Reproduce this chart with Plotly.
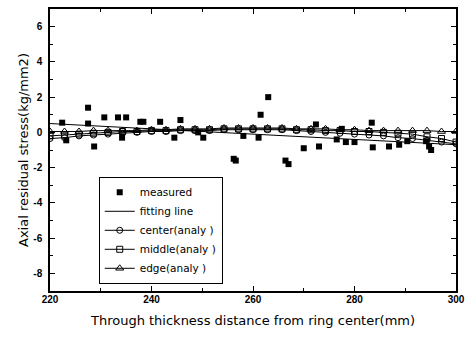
import plotly.graph_objects as go

# measured points
meas_x = [222.4, 223.2, 227.5, 227.5, 228.7, 230.7, 233.4, 235.0, 234.2, 237.8, 238.4,
          241.7, 244.5, 245.7, 249.2, 250.2, 256.2, 256.6, 258.1, 261.1, 261.5, 263.0,
          266.4, 267.0, 270.0, 272.4, 273.0, 276.5, 277.5, 278.3, 280.0, 283.4, 283.6,
          286.8, 288.8, 290.4, 294.1, 294.7, 295.1]
meas_y = [0.55, -0.45, 1.4, 0.5, -0.8, 0.85, 0.85, 0.85, -0.3, 0.6, 0.6,
          0.6, -0.3, 0.7, 0.0, -0.3, -1.5, -1.6, -0.2, -0.3, 1.0, 2.0,
          -1.6, -1.8, -0.9, 0.45, -0.8, -0.4, 0.2, -0.55, -0.55, 0.55, -0.85,
          -0.8, -0.7, -0.5, -0.5, -0.8, -1.0]

# fitting line
fit_x = [220, 300]
fit_y = [0.5, -0.7]

# analysis results
ana_x = [220 + i * 80 / 28 for i in range(29)]
center_y = [-0.35, -0.3, -0.2, -0.15, -0.1, -0.05, 0, 0.05, 0.05, 0.1, 0.1, 0.1, 0.15, 0.15,
            0.15, 0.15, 0.15, 0.1, 0.05, 0, -0.05, -0.1, -0.15, -0.2, -0.3, -0.35, -0.45,
            -0.55, -0.65]
middle_y = [-0.2, -0.15, -0.1, -0.05, 0, 0.05, 0.05, 0.1, 0.1, 0.15, 0.15, 0.15, 0.2, 0.2,
            0.2, 0.2, 0.2, 0.15, 0.15, 0.1, 0.1, 0.05, 0.05, 0, -0.05, -0.1, -0.25, -0.35,
            -0.55]
edge_y = [0.05, 0.05, 0.05, 0.1, 0.1, 0.1, 0.1, 0.15, 0.15, 0.2, 0.2, 0.2, 0.25, 0.25,
          0.25, 0.25, 0.25, 0.2, 0.2, 0.2, 0.15, 0.15, 0.1, 0.1, 0.1, 0.1, 0.1, 0.05, 0.05]

y_ticks = [6, 4, 2, 0, -2, -4, -6, -8]
x_ticks = [220, 240, 260, 280, 300]

fig = go.Figure()
fig.add_trace(go.Scatter(x=fit_x, y=fit_y, mode="lines", name="fitting line",
                         line=dict(color="black", width=1), legendrank=2))
fig.add_trace(go.Scatter(x=ana_x, y=center_y, mode="lines+markers", name="center(analy )",
                         line=dict(color="black", width=1),
                         marker=dict(symbol="circle-open", size=6, color="black",
                                     line=dict(width=1)), legendrank=3))
fig.add_trace(go.Scatter(x=ana_x, y=middle_y, mode="lines+markers", name="middle(analy )",
                         line=dict(color="black", width=1),
                         marker=dict(symbol="square-open", size=6, color="black",
                                     line=dict(width=1)), legendrank=4))
fig.add_trace(go.Scatter(x=ana_x, y=edge_y, mode="lines+markers", name="edge(analy )",
                         line=dict(color="black", width=1),
                         marker=dict(symbol="triangle-up-open", size=7, color="black",
                                     line=dict(width=1)), legendrank=5))
fig.add_trace(go.Scatter(x=meas_x, y=meas_y, mode="markers", name="measured",
                         marker=dict(symbol="square", size=6, color="black"), legendrank=1))

axis_common = dict(showline=True, linecolor="black", linewidth=1.5, mirror="allticks",
                   ticks="inside", ticklen=5, tickwidth=1.2, tickcolor="black",
                   showgrid=False, zeroline=False, ticklabeloverflow="allow",
                   automargin=False,
                   tickfont=dict(family="Liberation Sans", size=10, color="black",
                                 weight="bold"))

title_font = dict(family="DejaVu Sans", size=13, color="black")

fig.update_xaxes(range=[220, 300], tickvals=x_ticks, ticktext=[str(v) for v in x_ticks],
                 minor=dict(ticks="inside", dtick=10, ticklen=3, tickcolor="black"),
                 ticklabelstandoff=-2,
                 title=dict(text="Through thickness distance from ring center(mm)",
                            font=title_font, standoff=12),
                 **axis_common)
fig.update_yaxes(range=[-9, 7], tickvals=y_ticks, ticktext=[str(v) for v in y_ticks],
                 minor=dict(ticks="inside", dtick=1, ticklen=3, tickcolor="black"),
                 ticklabelstandoff=4,
                 title=dict(text="Axial residual stress(kg/mm2)",
                            font=title_font, standoff=2),
                 **axis_common)

fig.update_layout(width=467, height=338, margin=dict(l=50, r=11, t=9, b=47),
                  plot_bgcolor="white", paper_bgcolor="white",
                  legend=dict(x=0.12, y=0.405, xanchor="left", yanchor="top",
                              bordercolor="black", borderwidth=1, bgcolor="white",
                              font=dict(family="DejaVu Sans", size=10.5, color="black"),
                              tracegroupgap=0, itemwidth=30))

fig.write_html("out.html", config={"displayModeBar": False},
               post_script="document.body.style.margin='0';document.body.style.overflow='hidden';")
